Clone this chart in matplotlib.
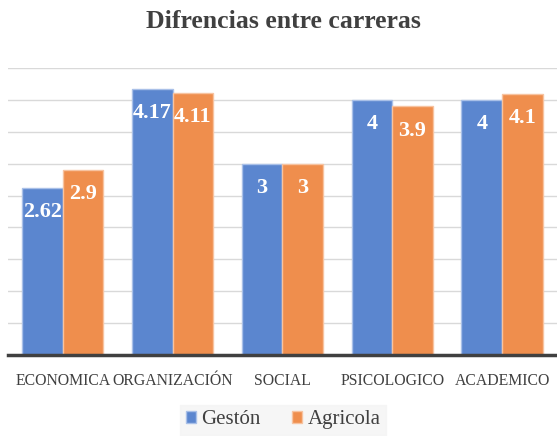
import numpy as np
import matplotlib.pyplot as plt

categories = ["ECONOMICA", "ORGANIZACIÓN", "SOCIAL", "PSICOLOGICO", "ACADEMICO"]
gestion = [2.62, 4.17, 3, 4, 4]
agricola = [2.9, 4.11, 3, 3.9, 4.1]
series_names = ["Gestón", "Agricola"]

plt.rcParams['font.family'] = ['Liberation Serif', 'DejaVu Serif']

fig = plt.figure(figsize=(5.57, 4.36), dpi=100)
ax = fig.add_axes([0.014, 0.186, 0.986, 0.658])

x = np.arange(len(categories))
w = 0.37
b1 = ax.bar(x - w/2, gestion, w, color='#5b86cf', edgecolor='#a9c0e8', linewidth=1, label=series_names[0], zorder=3)
b2 = ax.bar(x + w/2, agricola, w, color='#ef8e4d', edgecolor='#f7c3a0', linewidth=1, label=series_names[1], zorder=3)

for bars, vals in [(b1, gestion), (b2, agricola)]:
    for r, v in zip(bars, vals):
        ax.annotate(f"{v:g}", (r.get_x() + r.get_width()/2, v), xytext=(0, -17.5),
                    textcoords='offset points', ha='center', va='center',
                    color='white', fontsize=16, fontweight='bold', zorder=4)

ax.set_xlim(-0.5, len(categories) - 0.5)
ax.set_ylim(0, 4.5)
ax.set_yticks(np.arange(0.5, 4.51, 0.5))
ax.yaxis.grid(True, color='#d9d9d9', linewidth=1, zorder=0)
ax.tick_params(axis='y', length=0, labelleft=False)
ax.tick_params(axis='x', length=0, pad=13, labelsize=11.3, labelcolor='#404040')
ax.set_xticks(x)
ax.set_xticklabels(categories)
for s in ['top', 'right', 'left']:
    ax.spines[s].set_visible(False)
ax.spines['bottom'].set_color('#404040')
ax.spines['bottom'].set_linewidth(2.5)
ax.spines['bottom'].set_zorder(5)

fig.text(0.508, 0.95, "Difrencias entre carreras", ha='center', va='center',
         fontsize=18.5, fontweight='bold', color='#404040')

leg = fig.legend(loc='center', bbox_to_anchor=(0.508, 0.037), ncol=2, frameon=True,
                 fontsize=15, handlelength=0.5, handleheight=0.5, handletextpad=0.25,
                 columnspacing=1.5, borderpad=0.25, fancybox=False)
leg.get_frame().set_facecolor('#f4f4f4')
leg.get_frame().set_edgecolor('#f4f4f4')
for t in leg.get_texts():
    t.set_color('#404040')

fig.savefig("out.png", dpi=100)
